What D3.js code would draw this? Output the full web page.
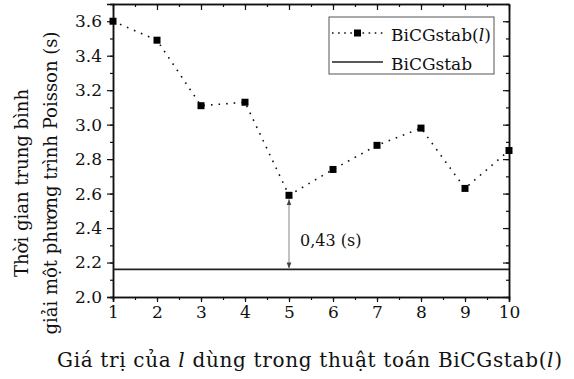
<!DOCTYPE html>
<html>
<head>
<meta charset="utf-8">
<script src="https://cdn.jsdelivr.net/npm/d3@7"></script>
<style>
  body { margin: 0; background: #fff; }
  text { font-family: "DejaVu Serif", "Liberation Serif", serif; fill: #111; }
</style>
</head>
<body>
<div id="chart"></div>
<script>
// values
const lValues = [1, 2, 3, 4, 5, 6, 7, 8, 9, 10];
const timeBiCGstabL = [3.60, 3.49, 3.11, 3.13, 2.59, 2.74, 2.88, 2.98, 2.63, 2.85];
const timeBiCGstab = 2.16;
const yTicks = [2.0, 2.2, 2.4, 2.6, 2.8, 3.0, 3.2, 3.4, 3.6];
const legendLabels = ["BiCGstab(", "BiCGstab"];
const gapLabel = "0,43 (s)";

const width = 574, height = 379;
const margin = {top: 4, right: 65, bottom: 82, left: 113};
const serif = "DejaVu Serif";

const svg = d3.select("#chart").append("svg")
    .attr("width", width)
    .attr("height", height);

const x = d3.scaleLinear().domain([1, 10]).range([margin.left, width - margin.right]);
const y = d3.scaleLinear().domain([2.0, 3.7]).range([height - margin.bottom, margin.top]);

const minorX = d3.range(1, 10.01, 0.5);
const minorY = d3.range(2.0, 3.71, 0.1);

// axes: bottom and left point outward, top and right mirror inward
function styleAxis(g) {
    g.attr("font-family", serif).attr("font-size", 17);
    g.select(".domain").attr("stroke", "#111").attr("stroke-width", 1.5);
    g.selectAll(".tick line").attr("stroke", "#111").attr("stroke-width", 1.2);
    g.selectAll("text").attr("fill", "#111");
}

svg.append("g")
    .attr("transform", `translate(0,${y(2.0)})`)
    .call(d3.axisBottom(x).tickValues(minorX).tickSize(3).tickFormat(""))
    .call(styleAxis);
svg.append("g")
    .attr("transform", `translate(0,${y(2.0)})`)
    .call(d3.axisBottom(x).tickValues(lValues).tickSize(5).tickPadding(4).tickFormat(d3.format("d")))
    .call(styleAxis);

svg.append("g")
    .attr("transform", `translate(${x(1)},0)`)
    .call(d3.axisLeft(y).tickValues(minorY).tickSize(3).tickFormat(""))
    .call(styleAxis);
svg.append("g")
    .attr("transform", `translate(${x(1)},0)`)
    .call(d3.axisLeft(y).tickValues(yTicks).tickSize(6).tickPadding(5).tickFormat(d3.format(".1f")))
    .call(styleAxis);

svg.append("g")
    .attr("transform", `translate(0,${y(3.7)})`)
    .call(d3.axisBottom(x).tickValues(minorX).tickSize(3).tickFormat("").tickSizeOuter(0))
    .call(styleAxis);
svg.append("g")
    .attr("transform", `translate(0,${y(3.7)})`)
    .call(d3.axisBottom(x).tickValues(lValues).tickSize(6).tickFormat("").tickSizeOuter(0))
    .call(styleAxis);

svg.append("g")
    .attr("transform", `translate(${x(10)},0)`)
    .call(d3.axisLeft(y).tickValues(minorY).tickSize(3).tickFormat("").tickSizeOuter(0))
    .call(styleAxis);
svg.append("g")
    .attr("transform", `translate(${x(10)},0)`)
    .call(d3.axisLeft(y).tickValues(yTicks).tickSize(6).tickFormat("").tickSizeOuter(0))
    .call(styleAxis);

// BiCGstab reference line
svg.append("line")
    .attr("x1", x(1)).attr("x2", x(10))
    .attr("y1", y(timeBiCGstab)).attr("y2", y(timeBiCGstab))
    .attr("stroke", "#222").attr("stroke-width", 1.6);

// BiCGstab(l) dotted series
const pts = lValues.map((d, i) => ({l: d, t: timeBiCGstabL[i]}));
svg.append("path")
    .datum(pts)
    .attr("fill", "none")
    .attr("stroke", "#111")
    .attr("stroke-width", 1.6)
    .attr("stroke-dasharray", "1.6,6")
    .attr("d", d3.line().x(d => x(d.l)).y(d => y(d.t)));

svg.selectAll(".pt").data(pts).enter()
    .append("rect")
    .attr("class", "pt")
    .attr("x", d => x(d.l) - 3.5)
    .attr("y", d => y(d.t) - 3.5)
    .attr("width", 7).attr("height", 7)
    .attr("fill", "#000");

// gap annotation at l = 5
const defs = svg.append("defs");
defs.append("marker")
    .attr("id", "ah")
    .attr("viewBox", "0 0 10 10")
    .attr("refX", 10).attr("refY", 5)
    .attr("markerWidth", 5).attr("markerHeight", 5)
    .attr("orient", "auto-start-reverse")
    .append("path").attr("d", "M0,1 L10,5 L0,9 Z").attr("fill", "#444");

svg.append("line")
    .attr("x1", x(5)).attr("x2", x(5))
    .attr("y1", y(timeBiCGstabL[4]) + 4).attr("y2", y(timeBiCGstab) - 1)
    .attr("stroke", "#999").attr("stroke-width", 1.2)
    .attr("marker-start", "url(#ah)")
    .attr("marker-end", "url(#ah)");

svg.append("text")
    .attr("x", x(5) + 11)
    .attr("y", 246)
    .style("font-size", "16px")
    .text(gapLabel);

// legend
const lg = svg.append("g").attr("transform", "translate(329,17)");
lg.append("rect")
    .attr("width", 165).attr("height", 57)
    .attr("fill", "#fff").attr("stroke", "#555").attr("stroke-width", 1);
lg.append("line")
    .attr("x1", 3).attr("x2", 54).attr("y1", 16).attr("y2", 16)
    .attr("stroke", "#111").attr("stroke-width", 1.6).attr("stroke-dasharray", "1.6,4.5");
lg.append("rect").attr("x", 25).attr("y", 12.5).attr("width", 7).attr("height", 7).attr("fill", "#000");
const t1 = lg.append("text").attr("x", 62).attr("y", 24).style("font-size", "17px");
t1.append("tspan").text(legendLabels[0]);
t1.append("tspan").style("font-style", "italic").text("l");
t1.append("tspan").text(")");
lg.append("line")
    .attr("x1", 3).attr("x2", 54).attr("y1", 45).attr("y2", 45)
    .attr("stroke", "#222").attr("stroke-width", 1.6);
lg.append("text").attr("x", 62).attr("y", 53).style("font-size", "17px").text(legendLabels[1]);

// axis titles
const xt = svg.append("text")
    .attr("x", 57).attr("y", 367)
    .attr("textLength", 505)
    .attr("lengthAdjust", "spacing")
    .style("font-size", "20px");
xt.append("tspan").text("Giá trị của ");
xt.append("tspan").style("font-style", "italic").text("l");
xt.append("tspan").text(" dùng trong thuật toán BiCGstab(");
xt.append("tspan").style("font-style", "italic").text("l");
xt.append("tspan").text(")");

const yt = svg.append("text")
    .attr("transform", "translate(28,183) rotate(-90)")
    .attr("text-anchor", "middle")
    .style("font-size", "18px");
yt.append("tspan").attr("x", 0).attr("dy", 0).text("Thời gian trung bình");
yt.append("tspan").attr("x", 0).attr("dy", 29).text("giải một phương trình Poisson (s)");
</script>
</body>
</html>
